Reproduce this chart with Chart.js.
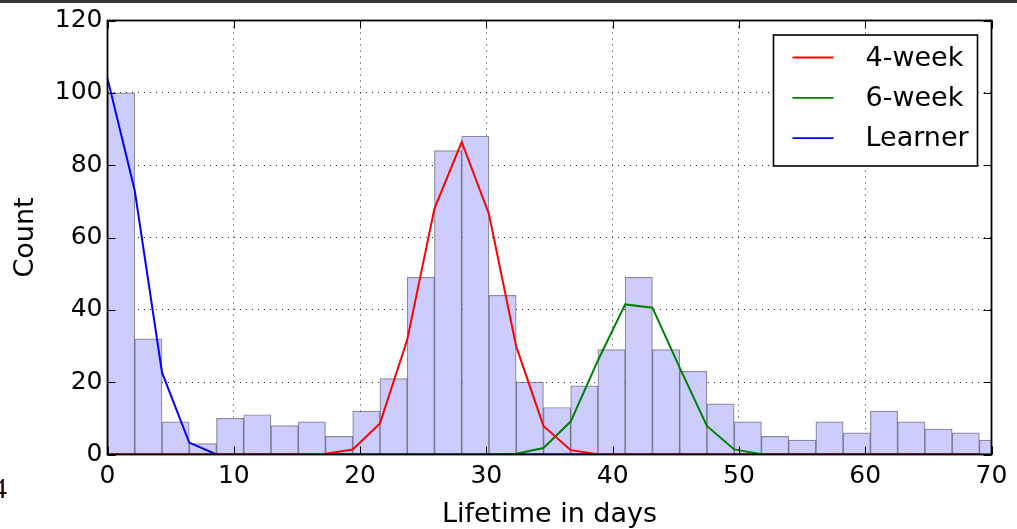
<!DOCTYPE html>
<html>
<head>
<meta charset="utf-8">
<script src="https://cdn.jsdelivr.net/npm/chart.js@4"></script>
<style>
  html, body { margin: 0; padding: 0; background: #fff; }
  #wrap { position: relative; width: 1017px; height: 529px; overflow: hidden; }
  #wrap canvas { position: absolute; left: 0; top: 0; }
  #topbar { position: absolute; left: 0; top: 0; width: 1017px; height: 3px; background: #383838; }
  #stray { position: absolute; left: -8px; top: 473px; font: 30px 'Liberation Serif', serif; color: #2a0505; line-height: 1; }
</style>
</head>
<body>
<div id="wrap">
  <canvas id="chart" width="1017" height="529"></canvas>
  <div id="topbar"></div>
  <div id="stray">4</div>
</div>
<script>
// Histogram of lifetimes: bin width in days and the count in each bin
const binWidth = 2.1575;
const counts = [100, 32, 9, 3, 10, 11, 8, 9, 5, 12, 21, 49, 84, 88, 44, 20, 13,
                19, 29, 49, 29, 23, 14, 9, 5, 4, 9, 6, 12, 9, 7, 6, 4];

// Fitted curves, sampled at the bin edges (edge 0 .. edge 32)
const fourWeek = [0, 0, 0, 0, 0, 0, 0, 0, 0.2, 1.4, 8.6, 31.7, 68, 86.4, 66.5, 29.9, 7.9,
                  1.2, 0.1, 0, 0, 0, 0, 0, 0, 0, 0, 0, 0, 0, 0, 0, 0];
const sixWeek  = [0, 0, 0, 0, 0, 0, 0, 0, 0, 0, 0, 0, 0, 0, 0, 0.2, 1.8,
                  9.1, 26, 41.5, 40.6, 24, 7.9, 1.4, 0.1, 0, 0, 0, 0, 0, 0, 0, 0];
const learner  = [104, 73, 22.7, 3.3, 0, 0, 0, 0, 0, 0, 0, 0, 0, 0, 0, 0, 0,
                  0, 0, 0, 0, 0, 0, 0, 0, 0, 0, 0, 0, 0, 0, 0, 0];

const xTicks = [0, 10, 20, 30, 40, 50, 60, 70];
const yTicks = [0, 20, 40, 60, 80, 100, 120];

const barPoints = counts.map((c, i) => ({ x: (i + 0.5) * binWidth, y: c }));
const curve = vals => vals.map((v, i) => ({ x: i * binWidth, y: v }));

const FONT = "'DejaVu Sans', sans-serif";

// Frame, inward ticks on all four sides, and the legend box
const framePlugin = {
  id: 'frame',
  afterDatasetsDraw(chart) {
    const { ctx, chartArea: a, scales: { x, y } } = chart;
    const len = 8;
    ctx.save();
    ctx.strokeStyle = '#000';
    ctx.lineWidth = 1;
    ctx.beginPath();
    xTicks.forEach(v => {
      const px = Math.round(x.getPixelForValue(v)) + 0.5;
      ctx.moveTo(px, a.bottom); ctx.lineTo(px, a.bottom - len);
      ctx.moveTo(px, a.top); ctx.lineTo(px, a.top + len);
    });
    yTicks.forEach(v => {
      const py = Math.round(y.getPixelForValue(v)) + 0.5;
      ctx.moveTo(a.left, py); ctx.lineTo(a.left + len, py);
      ctx.moveTo(a.right, py); ctx.lineTo(a.right - len, py);
    });
    ctx.stroke();
    ctx.lineWidth = 1.8;
    ctx.strokeRect(a.left, a.top, a.right - a.left, a.bottom - a.top);
    ctx.restore();
  },
  afterDraw(chart) {
    const { ctx, chartArea: a } = chart;
    const items = chart.data.datasets.filter(d => d.type === 'line');
    const w = 204, h = 131;
    const left = a.right - 14 - w, top = a.top + 14.5;
    ctx.save();
    ctx.fillStyle = '#fff';
    ctx.fillRect(left, top, w, h);
    ctx.strokeStyle = '#000';
    ctx.lineWidth = 1.6;
    ctx.strokeRect(left, top, w, h);
    ctx.font = '27px ' + FONT;
    ctx.textBaseline = 'middle';
    ctx.fillStyle = '#000';
    items.forEach((d, i) => {
      const cy = top + 22.5 + i * 40.3;
      ctx.strokeStyle = d.borderColor;
      ctx.lineWidth = 1.8;
      ctx.beginPath();
      ctx.moveTo(left + 19, cy); ctx.lineTo(left + 60, cy);
      ctx.stroke();
      ctx.fillText(d.label, left + 92, cy + 1);
    });
    ctx.restore();
  }
};

new Chart(document.getElementById('chart'), {
  type: 'bar',
  data: {
    datasets: [
      {
        type: 'bar',
        label: 'Lifetime',
        data: barPoints,
        backgroundColor: 'rgb(204, 204, 255)',
        borderColor: 'rgba(60, 60, 90, 0.6)',
        borderWidth: 1.2,
        borderSkipped: false,
        barPercentage: 1,
        categoryPercentage: 1,
        order: 2
      },
      { type: 'line', label: '4-week', data: curve(fourWeek), borderColor: '#ff0000',
        borderWidth: 2, pointRadius: 0, fill: false, tension: 0, order: 1 },
      { type: 'line', label: '6-week', data: curve(sixWeek), borderColor: '#008000',
        borderWidth: 2, pointRadius: 0, fill: false, tension: 0, order: 1 },
      { type: 'line', label: 'Learner', data: curve(learner), borderColor: '#0000ff',
        borderWidth: 2, pointRadius: 0, fill: false, tension: 0, order: 1 }
    ]
  },
  options: {
    responsive: false,
    animation: false,
    devicePixelRatio: 1,
    layout: { padding: { left: 0, top: 20.5, right: 25.5, bottom: 0 } },
    plugins: { legend: { display: false }, tooltip: { enabled: false } },
    scales: {
      x: {
        type: 'linear',
        min: 0, max: 70,
        offset: false,
        afterFit(s) { s.height = 74.5; },
        afterBuildTicks(s) { s.ticks = xTicks.map(v => ({ value: v })); },
        grid: { color: 'rgba(0,0,0,0.85)', lineWidth: 1, drawTicks: false, offset: false },
        border: { display: false, dash: [1, 5] },
        ticks: { color: '#000', font: { family: FONT, size: 25 }, padding: 7, maxRotation: 0 },
        title: { display: true, text: 'Lifetime in days', color: '#000',
                 font: { family: FONT, size: 27 }, padding: { top: 0, bottom: -2 } }
      },
      y: {
        min: 0, max: 120,
        afterFit(s) { s.width = 107.5; },
        afterBuildTicks(s) { s.ticks = yTicks.map(v => ({ value: v })); },
        grid: { color: 'rgba(0,0,0,0.85)', lineWidth: 1, drawTicks: false },
        border: { display: false, dash: [1, 5] },
        ticks: { color: '#000', font: { family: FONT, size: 25 }, padding: 5 },
        title: { display: true, text: 'Count', color: '#000',
                 font: { family: FONT, size: 27 }, padding: { top: 10, bottom: 0 } }
      }
    }
  },
  plugins: [framePlugin]
});
</script>
</body>
</html>
